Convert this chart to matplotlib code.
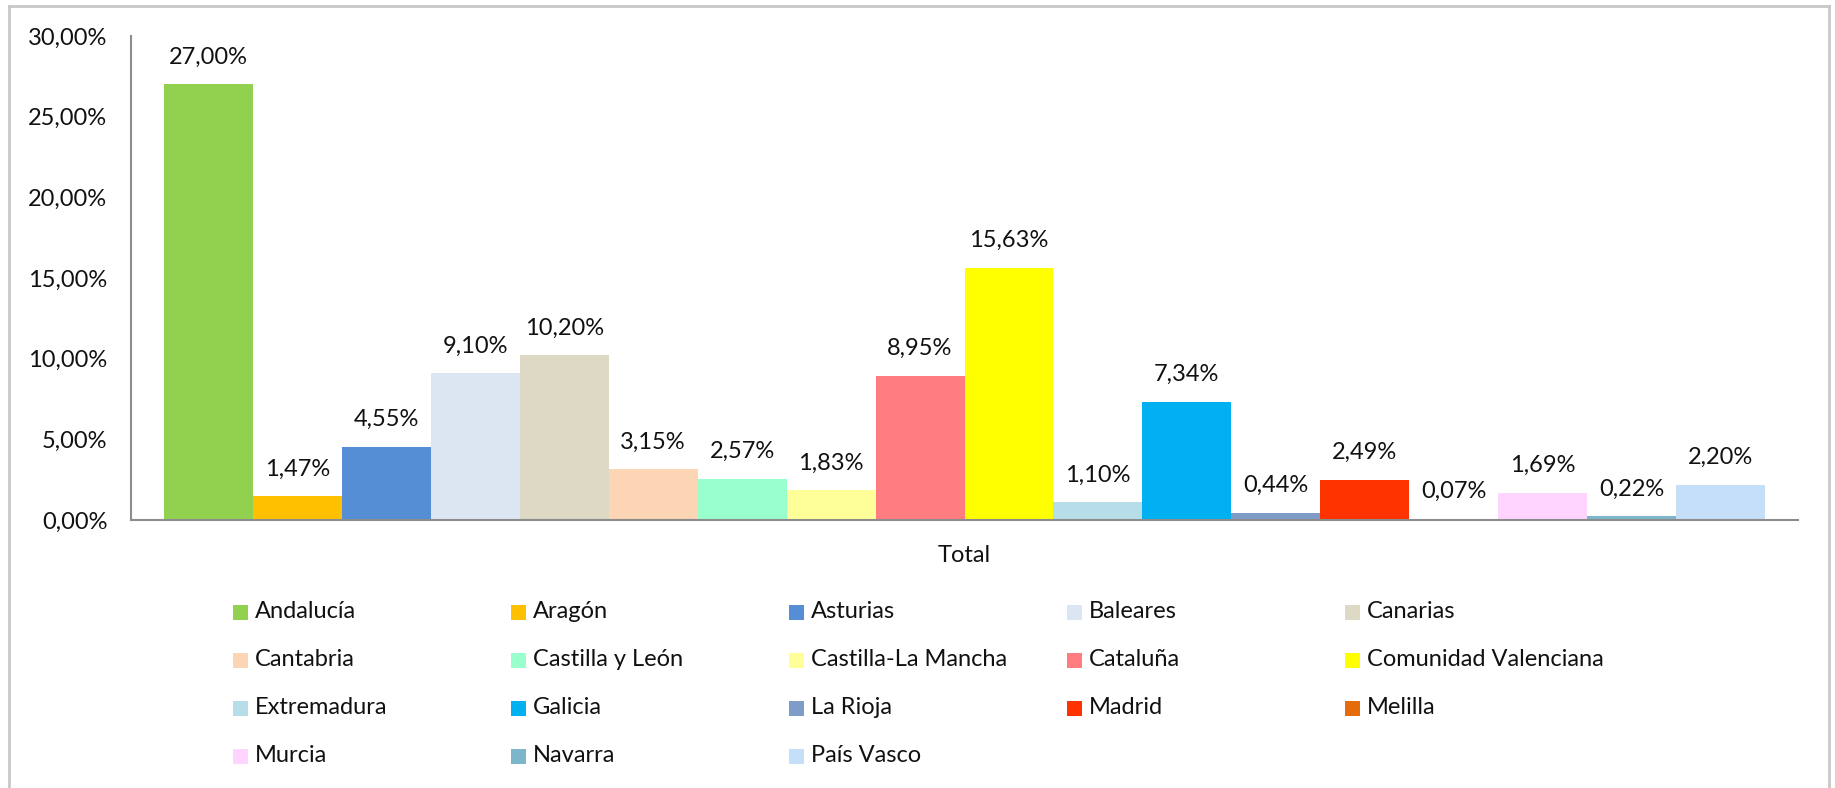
import matplotlib.pyplot as plt
from matplotlib.patches import Rectangle
from matplotlib.lines import Line2D

plt.rcParams['font.family'] = ['Lato', 'DejaVu Sans']

regions = ["Andalucía", "Aragón", "Asturias", "Baleares", "Canarias",
           "Cantabria", "Castilla y León", "Castilla-La Mancha", "Cataluña",
           "Comunidad Valenciana", "Extremadura", "Galicia", "La Rioja",
           "Madrid", "Melilla", "Murcia", "Navarra", "País Vasco"]
values = [27.00, 1.47, 4.55, 9.10, 10.20, 3.15, 2.57, 1.83, 8.95,
          15.63, 1.10, 7.34, 0.44, 2.49, 0.07, 1.69, 0.22, 2.20]
colors = ["#92D050", "#FFC000", "#558ED5", "#DCE6F2", "#DDD9C4",
          "#FCD5B5", "#99FFCC", "#FFFF99", "#FF7C80", "#FFFF00",
          "#B7DEE8", "#00B0F0", "#7F9BC8", "#FF3300", "#E46C0A",
          "#FFD5FF", "#7DB6CA", "#C5DFF8"]
yticks = [0, 5, 10, 15, 20, 25, 30]
category = "Total"

FS = 17
TXT = "#111111"

W, H = 1835, 788
fig = plt.figure(figsize=(W / 100, H / 100), dpi=100)
ax = fig.add_axes([131 / W, 1 - 520 / H, (1798 - 131) / W, (520 - 36) / H])

x = list(range(len(values)))
ax.bar(x, values, width=1.0, color=colors, linewidth=0)

for xi, v in zip(x, values):
    ax.annotate(f"{v:.2f}%".replace(".", ","), (xi, v), xytext=(0, 19.5),
                textcoords="offset points", ha="center", va="center",
                fontsize=FS, color=TXT)

pad = 0.37
ax.set_xlim(-0.5 - pad, len(values) - 0.5 + pad)
ax.set_ylim(0, 30)
ax.set_yticks(yticks)
ax.set_yticklabels([f"{t:.2f}%".replace(".", ",") for t in yticks],
                   fontsize=FS, color=TXT)
ax.set_xticks([(len(values) - 1) / 2])
ax.set_xticklabels([category], fontsize=FS, color=TXT)
ax.tick_params(axis="y", length=0, pad=17)
ax.tick_params(axis="x", length=0, pad=18)

for s in ["top", "right"]:
    ax.spines[s].set_visible(False)
for s in ["left", "bottom"]:
    ax.spines[s].set_color("#8c8c8c")
    ax.spines[s].set_linewidth(1.5)

# legend, laid out as a grid of 5 columns
x0, dx = 233 / W, 278 / W
y0, dy = 1 - 612 / H, 48 / H
sq_w, sq_h = 15 / W, 15 / H
for i, (name, c) in enumerate(zip(regions, colors)):
    col, row = i % 5, i // 5
    lx = x0 + col * dx
    ly = y0 - row * dy
    fig.patches.append(Rectangle((lx, ly - sq_h / 2), sq_w, sq_h,
                                 transform=fig.transFigure, facecolor=c,
                                 edgecolor="none"))
    fig.text(lx + 22 / W, ly, name, fontsize=FS, va="center", ha="left",
             color=TXT)

# chart frame
frame = "#c8c8c8"
fig.lines.append(Line2D([9 / W, 1829 / W], [1 - 6 / H, 1 - 6 / H],
                        transform=fig.transFigure, color=frame, lw=2))
fig.lines.append(Line2D([9 / W, 9 / W], [0, 1 - 6 / H],
                        transform=fig.transFigure, color=frame, lw=2))
fig.lines.append(Line2D([1829 / W, 1829 / W], [0, 1 - 6 / H],
                        transform=fig.transFigure, color=frame, lw=2))

fig.savefig("out.png", dpi=100)
